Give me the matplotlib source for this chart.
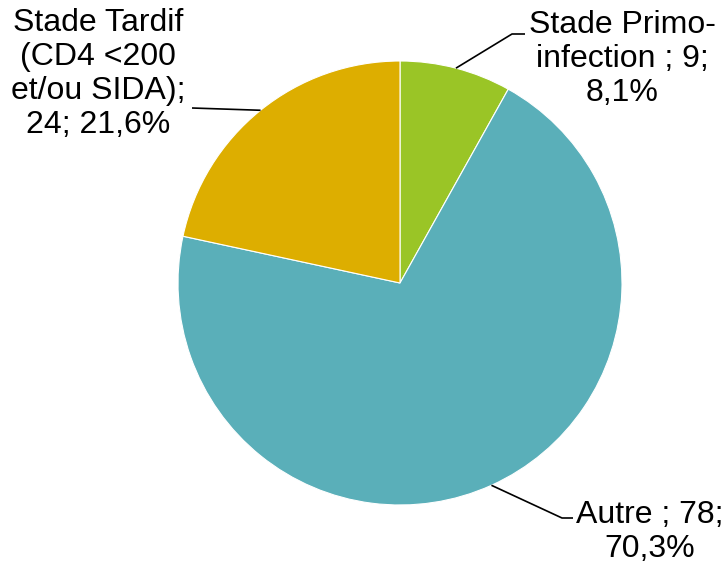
import matplotlib
matplotlib.use('Agg')

import matplotlib.pyplot as plt
import numpy as np

plt.rcParams['font.family'] = ['Liberation Sans', 'DejaVu Sans']

# données
categories = ['Stade Primo-\ninfection', 'Autre', 'Stade Tardif\n(CD4 <200\net/ou SIDA)']
valeurs = [9, 78, 24]
pourcentages = ['8,1%', '70,3%', '21,6%']
couleurs = ['#9AC526', '#5AAFB9', '#DDAE00']

W, H = 728, 567
fig = plt.figure(figsize=(W / 100, H / 100), dpi=100)
ax = fig.add_axes([0, 0, 1, 1])

centre = (400, H - 283)
rayon = 222
wedges, _ = ax.pie(valeurs, colors=couleurs, startangle=90, counterclock=False,
                   center=centre, radius=rayon,
                   wedgeprops=dict(edgecolor='white', linewidth=0.8))

# la pie remet les limites, on les fixe après
ax.set_xlim(0, W)
ax.set_ylim(0, H)
ax.set_aspect('equal')
ax.axis('off')

# étiquettes : texte, position, coude du trait, fin du trait
textes = [
    f'{categories[0]} ; {valeurs[0]};\n{pourcentages[0]}',
    f'{categories[1]} ; {valeurs[1]};\n{pourcentages[1]}',
    f'{categories[2]};\n{valeurs[2]}; {pourcentages[2]}',
]
pos_texte = [(622, H - 59), (650, H - 532), (98, H - 74)]
coudes = [(512, H - 34), (562, H - 518), (192, H - 108)]
fins = [(525, H - 34), (573, H - 518), (192, H - 108)]

for w, txt, pt, cd, fn in zip(wedges, textes, pos_texte, coudes, fins):
    ang = np.deg2rad((w.theta1 + w.theta2) / 2)
    x0 = centre[0] + rayon * np.cos(ang)
    y0 = centre[1] + rayon * np.sin(ang)
    ax.plot([x0, cd[0], fn[0]], [y0, cd[1], fn[1]], color='black', lw=1.2,
            solid_capstyle='butt')
    ax.text(pt[0], pt[1], txt, ha='center', va='center', fontsize=23,
            linespacing=1.18, multialignment='center')

fig.savefig('out.png', dpi=100)
